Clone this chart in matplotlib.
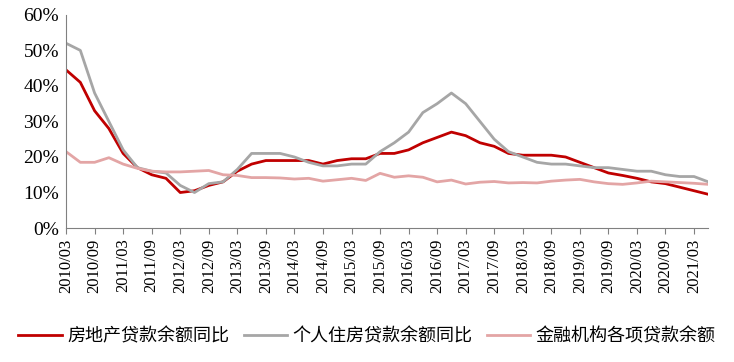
import matplotlib.pyplot as plt

# quarterly data, 2010/03 - 2021/06
quarters = []
for y in range(2010, 2022):
    for m in ["03", "06", "09", "12"]:
        quarters.append(f"{y}/{m}")
quarters = quarters[:46]

real_estate = [44.5, 41, 33, 28, 21, 17, 15, 14, 10, 10.5, 12, 13,
               16, 18, 19, 19, 19, 19, 18, 19, 19.5, 19.5, 21, 21,
               22, 24, 25.5, 27, 26, 24, 23, 21, 20.5, 20.5, 20.5, 20,
               18.5, 17, 15.5, 14.8, 14, 13, 12.5, 11.5, 10.5, 9.5]
housing = [52, 50, 38, 30, 22, 17, 16, 15.5, 12, 10, 12.5, 13,
           16.5, 21, 21, 21, 20, 18.5, 17.5, 17.5, 18, 18, 21.5, 24,
           27, 32.5, 35, 38, 35, 30, 25, 21.5, 20, 18.5, 18, 18,
           17.5, 17, 17, 16.5, 16, 16, 15, 14.5, 14.5, 13]
all_loans = [21.5, 18.5, 18.5, 19.8, 18, 16.8, 16, 15.8, 15.8, 16, 16.2, 15,
             14.8, 14.2, 14.2, 14.1, 13.8, 14, 13.2, 13.6, 14, 13.4, 15.4, 14.3,
             14.7, 14.3, 13, 13.5, 12.4, 12.9, 13.1, 12.7, 12.8, 12.7, 13.2, 13.5,
             13.7, 13, 12.5, 12.3, 12.7, 13.2, 13, 12.8, 12.6, 12.3]

serif = ['Liberation Serif', 'Noto Sans CJK SC']
cjk = ['Noto Sans CJK SC', 'DejaVu Sans']

fig = plt.figure(figsize=(7.34, 3.62), dpi=100)
ax = fig.add_axes([0.09, 0.37, 0.875, 0.589])

x = list(range(len(quarters)))
ax.plot(x, real_estate, color='#C00000', lw=2, label='房地产贷款余额同比')
ax.plot(x, housing, color='#A6A6A6', lw=2, label='个人住房贷款余额同比')
ax.plot(x, all_loans, color='#E3A5A5', lw=2, label='金融机构各项贷款余额')

ax.set_xlim(0, 45)
ax.set_ylim(0, 60)
ax.set_xticks(x[::2])
ax.set_xticklabels(quarters[::2], rotation=90, family=serif, fontsize=12)
ax.set_yticks(range(0, 61, 10))
ax.set_yticklabels([f"{v}%" for v in range(0, 61, 10)], family=serif, fontsize=14)
ax.tick_params(axis='x', length=4, color='#808080', direction='out')
ax.tick_params(axis='y', length=0, pad=5)

for s in ['top', 'right']:
    ax.spines[s].set_visible(False)
for s in ['left', 'bottom']:
    ax.spines[s].set_color('#808080')

fig.legend(loc='center', bbox_to_anchor=(0.5, 0.07), ncol=3, frameon=False,
           prop={'family': cjk, 'size': 13}, handlelength=2.4,
           columnspacing=0.8, handletextpad=0.3)

plt.savefig('out.png', dpi=100)
